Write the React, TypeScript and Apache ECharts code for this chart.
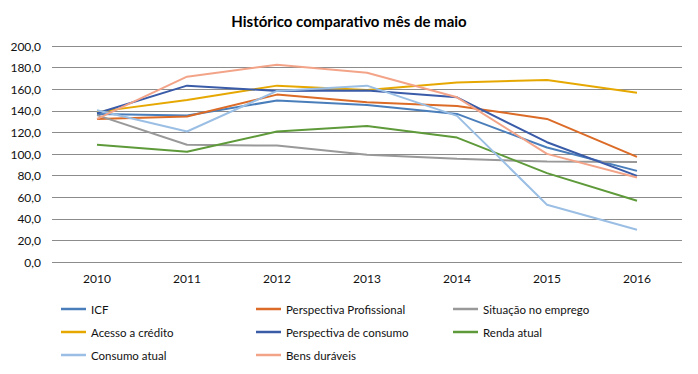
import React, { useEffect, useRef } from "react";
import * as echarts from "echarts";

const years = ["2010", "2011", "2012", "2013", "2014", "2015", "2016"];
const yTicks = [0, 20, 40, 60, 80, 100, 120, 140, 160, 180, 200];

const icf = [137, 135.6, 149.5, 145.4, 137.1, 106, 84.4];
const perspProf = [132.5, 134.7, 155, 148, 144.5, 132.5, 97.4];
const situacao = [136, 108.5, 107.8, 99.2, 95.5, 93, 92.7];
const acesso = [139, 150, 163.3, 159.3, 166.1, 168.6, 156.8];
const perspConsumo = [137.7, 163.3, 158.4, 158.7, 152.5, 110.9, 79.8];
const renda = [108.5, 102, 120.8, 126, 115.2, 82.3, 56.7];
const consumoAtual = [140.5, 120.8, 158.4, 163.3, 135.3, 53, 29.9];
const bens = [132.5, 171.6, 182.7, 175.3, 152.5, 100.1, 78.2];

const seriesNames = [
  "ICF",
  "Perspectiva Profissional",
  "Situação no emprego",
  "Acesso a crédito",
  "Perspectiva de consumo",
  "Renda atual",
  "Consumo atual",
  "Bens duráveis",
];
const seriesData = [icf, perspProf, situacao, acesso, perspConsumo, renda, consumoAtual, bens];
const colors = [
  "#4a7ebb",
  "#db6b27",
  "#999999",
  "#e6a800",
  "#3a5ba8",
  "#5e9a3a",
  "#9bbfe4",
  "#f3a488",
];

const legendPos = [
  [61, 303],
  [256, 303],
  [453, 303],
  [61, 326],
  [256, 326],
  [453, 326],
  [61, 349],
  [256, 349],
];

const FONT = "Lato, 'Open Sans', sans-serif";

export default function App() {
  const ref = useRef<HTMLDivElement>(null);
  useEffect(() => {
    if (!ref.current) return;
    const chart = echarts.init(ref.current, undefined, { renderer: "svg" });
    chart.setOption({
      animation: false,
      color: colors,
      title: {
        text: "Histórico comparativo mês de maio",
        left: "center",
        top: 8,
        textStyle: { fontFamily: FONT, fontSize: 15, fontWeight: "bold", color: "#000" },
      },
      legend: seriesNames.map((n, i) => ({
        data: [n],
        left: legendPos[i][0],
        top: legendPos[i][1],
        padding: 0,
        icon: "rect",
        itemWidth: 25,
        itemHeight: 2.5,
        textStyle: { fontFamily: FONT, fontSize: 11.5, color: "#111" },
      })),
      grid: { left: 52, right: 16, top: 46, bottom: 112 },
      xAxis: {
        type: "category",
        data: years,
        boundaryGap: true,
        axisLine: { show: false },
        axisTick: { show: false },
        axisLabel: { fontFamily: FONT, fontSize: 12, color: "#111", margin: 10 },
      },
      yAxis: {
        type: "value",
        min: yTicks[0],
        max: yTicks[yTicks.length - 1],
        interval: 20,
        axisLine: { show: false },
        axisTick: { show: false },
        splitLine: { lineStyle: { color: "#8c8c8c", width: 1 } },
        axisLabel: {
          fontFamily: FONT,
          fontSize: 12,
          color: "#111",
          margin: 11,
          formatter: (v: number) => v.toFixed(1).replace(".", ","),
        },
      },
      series: seriesNames.map((n, i) => ({
        name: n,
        type: "line",
        data: seriesData[i],
        symbol: "none",
        lineStyle: { width: 2, color: colors[i] },
        itemStyle: { color: colors[i] },
      })),
    });
    return () => chart.dispose();
  }, []);
  return <div ref={ref} style={{ width: 698, height: 374, position: "absolute", left: 0, top: 0 }} />;
}
